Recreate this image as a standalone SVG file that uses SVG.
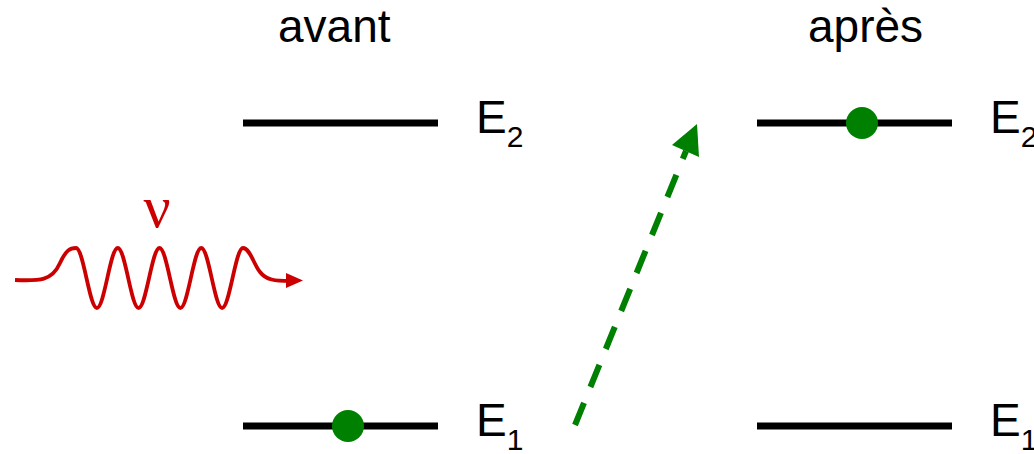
<svg xmlns="http://www.w3.org/2000/svg" width="1034" height="454" viewBox="0 0 1034 454">
<style>
.lvl{stroke:#000;stroke-width:7;fill:none}
.e{fill:#008000}
.t{font-family:"Liberation Sans",Arial,sans-serif;font-size:46px;fill:#000}
.sub{font-size:30px}
</style>
<rect width="1034" height="454" fill="#fff"/>
<text class="t" x="278" y="42">avant</text>
<text class="t" x="808" y="42">après</text>
<g id="avant-E2"><line class="lvl" x1="243" y1="123" x2="438" y2="123"/><text class="t" x="476" y="133">E<tspan class="sub" dy="14">2</tspan></text></g>
<g id="avant-E1"><line class="lvl" x1="243" y1="426" x2="438" y2="426"/><circle class="e" cx="348" cy="426" r="16"/><text class="t" x="476" y="436">E<tspan class="sub" dy="14">1</tspan></text></g>
<g id="apres-E2"><line class="lvl" x1="757" y1="123" x2="952" y2="123"/><circle class="e" cx="862" cy="123" r="16"/><text class="t" x="990" y="133">E<tspan class="sub" dy="14">2</tspan></text></g>
<g id="apres-E1"><line class="lvl" x1="757" y1="426" x2="952" y2="426"/><text class="t" x="990" y="436">E<tspan class="sub" dy="14">1</tspan></text></g>
<g id="photon">
<text x="157" y="227" text-anchor="middle" font-family="Liberation Serif,Times New Roman,serif" font-size="60" fill="#cc0000">ν</text>
<path d="M15,280 C40,281 52,281 60,263 C66,250 70,248 76,248 C83.5,248 89.4,308 96.9,308 S110.2,248 117.75,248 S131.1,308 138.6,308 S152,248 159.5,248 S172.9,308 180.4,308 S193.7,248 201.25,248 S214.6,308 222.1,308 S235.5,248 243,248 C250,248 254,265 260,272 C266,280 275,281 290,281" fill="none" stroke="#cc0000" stroke-width="3.8"/>
<polygon points="286,273 303,280.5 286,288" fill="#cc0000"/>
</g>
<g id="connectors">
<line x1="575" y1="425" x2="686" y2="151" stroke="#008000" stroke-width="6" stroke-dasharray="24 17"/>
<polygon points="697,124 699,157 672,145" fill="#008000"/>
</g>
</svg>
